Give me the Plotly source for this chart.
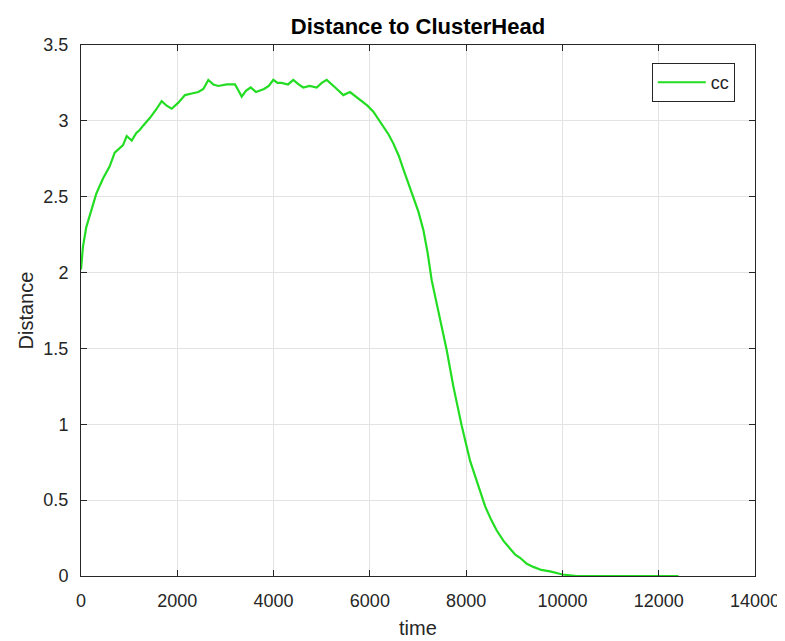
import plotly.graph_objects as go

time = [0, 40, 110, 214, 318, 457, 596, 700, 873, 949,
        1053, 1150, 1219, 1295, 1433, 1550, 1676, 1780, 1884, 2022,
        2160, 2300, 2437, 2541, 2645, 2750, 2853, 3026, 3199, 3270,
        3338, 3430, 3525, 3635, 3801, 3900, 3995, 4080, 4168, 4300,
        4410, 4520, 4618, 4750, 4896, 5000, 5104, 5280, 5449, 5588,
        5796, 5950, 6073, 6180, 6281, 6389, 6489, 6600, 6697, 6800,
        6904, 7010, 7112, 7200, 7284, 7370, 7457, 7596, 7734, 7908,
        8081, 8254, 8393, 8520, 8636, 8780, 8912, 9020, 9120, 9260,
        9396, 9560, 9743, 9870, 10000, 10150, 10300, 10600, 11000, 11500,
        12000, 12410]
distance = [2.02, 2.17, 2.30, 2.41, 2.52, 2.62, 2.70, 2.79, 2.84, 2.90,
            2.87, 2.92, 2.94, 2.97, 3.02, 3.07, 3.13, 3.10, 3.08, 3.12,
            3.17, 3.18, 3.19, 3.21, 3.27, 3.24, 3.23, 3.24, 3.24, 3.20,
            3.16, 3.20, 3.22, 3.19, 3.21, 3.23, 3.27, 3.25, 3.25, 3.24,
            3.27, 3.24, 3.22, 3.23, 3.22, 3.25, 3.27, 3.22, 3.17, 3.19,
            3.14, 3.10, 3.06, 3.01, 2.96, 2.91, 2.85, 2.77, 2.68, 2.59,
            2.50, 2.40, 2.28, 2.13, 1.95, 1.82, 1.69, 1.49, 1.25, 0.99,
            0.76, 0.59, 0.46, 0.37, 0.30, 0.23, 0.18, 0.14, 0.12, 0.08,
            0.06, 0.04, 0.03, 0.02, 0.01, 0.005, 0.0, 0.0, 0.0, 0.0,
            0.0, 0.0]

x_ticks = [0, 2000, 4000, 6000, 8000, 10000, 12000, 14000]
x_tick_labels = ["0", "2000", "4000", "6000", "8000", "10000", "12000", "14000"]
y_ticks = [0, 0.5, 1, 1.5, 2, 2.5, 3, 3.5]
y_tick_labels = ["0", "0.5", "1", "1.5", "2", "2.5", "3", "3.5"]

FONT = "Liberation Sans, Arial, sans-serif"
AX = "#262626"

# page body has an 8px default margin, so the figure is drawn 8px smaller
W, H = 777, 633
L, R, T, B = 73, 30, 37, 65
PH = H - T - B  # 531
PW = W - L - R  # 674

fig = go.Figure()
fig.add_trace(go.Scatter(x=time, y=distance, mode="lines", name="cc",
                         line=dict(color="#22dd22", width=2.2)))

axis_common = dict(showline=True, linecolor=AX, linewidth=1, mirror="ticks",
                   ticks="inside", ticklen=6, tickcolor=AX, tickwidth=1,
                   showgrid=True, gridcolor="#e3e3e3", gridwidth=1,
                   zeroline=False, automargin=False,
                   tickfont=dict(family=FONT, size=18, color=AX))

fig.update_layout(
    template="none",
    width=W, height=H,
    margin=dict(l=L, r=R, t=T, b=B, pad=0),
    paper_bgcolor="white", plot_bgcolor="white",
    title=dict(text="<b>Distance to ClusterHead</b>", x=(418 - 8) / W, xanchor="center",
               y=1 - 18 / H, yanchor="middle",
               font=dict(family=FONT, size=22, color="black")),
    xaxis=dict(range=[0, 14000], tickvals=x_ticks, ticktext=x_tick_labels,
               ticklabelstandoff=8, **axis_common),
    yaxis=dict(range=[0, 3.5], tickvals=y_ticks, ticktext=y_tick_labels,
               ticklabelstandoff=8, **axis_common),
    showlegend=True,
    legend=dict(x=0.970, y=0.966, xanchor="right", yanchor="top",
                bordercolor=AX, borderwidth=1, bgcolor="white",
                itemwidth=48, tracegroupgap=0,
                font=dict(family=FONT, size=18, color=AX)),
    annotations=[
        dict(text="time", xref="paper", yref="paper", x=0.5, y=-52 / PH,
             xanchor="center", yanchor="middle", showarrow=False,
             font=dict(family=FONT, size=20, color=AX)),
        dict(text="Distance", xref="paper", yref="paper", x=-56 / PW, y=0.5,
             xanchor="center", yanchor="middle", textangle=-90, showarrow=False,
             font=dict(family=FONT, size=20, color=AX)),
    ],
)

fig.write_html("out.html")
